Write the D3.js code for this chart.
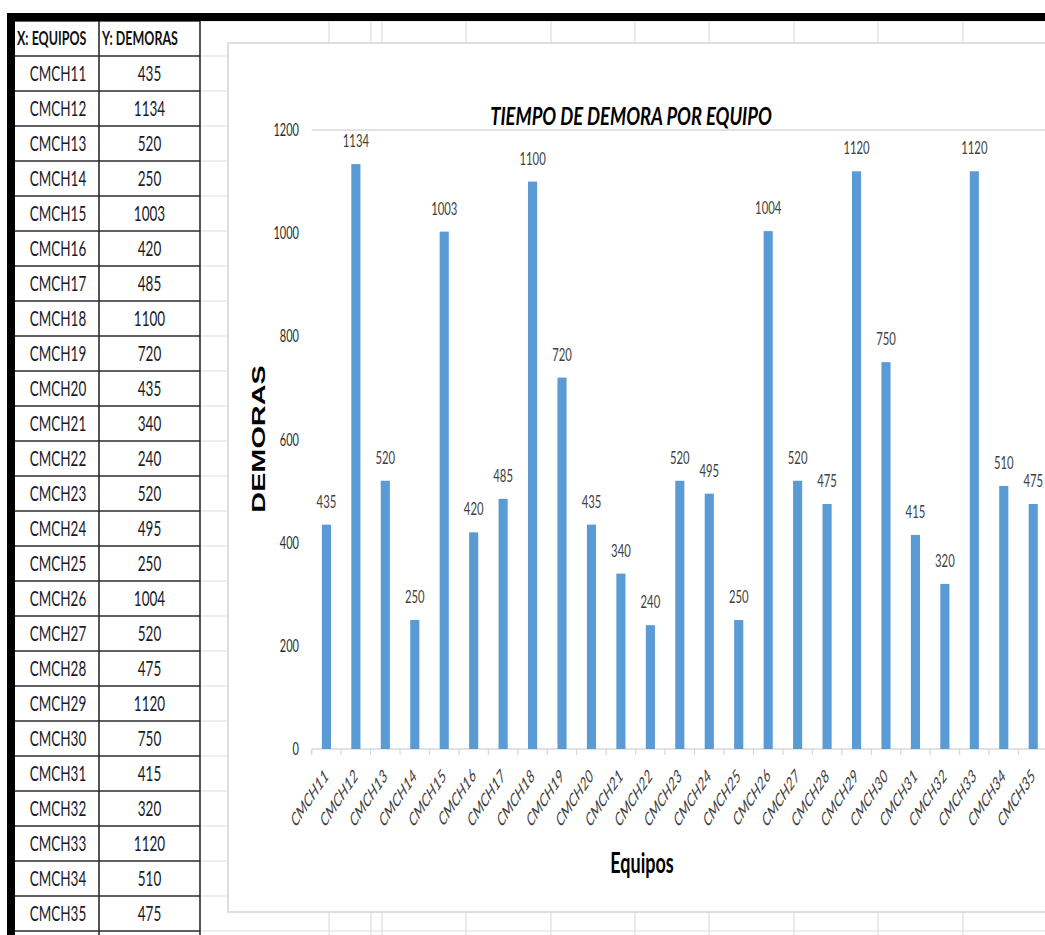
<!DOCTYPE html>
<html>
<head>
<meta charset="utf-8">
<script src="https://cdn.jsdelivr.net/npm/d3@7/dist/d3.min.js"></script>
<style>
  html, body { margin: 0; padding: 0; background: #fff; overflow: hidden; }
  svg { display: block; }
</style>
</head>
<body>
<svg id="sheet" width="1045" height="935"></svg>
<script>
// ---- data ----
const equipos = ["CMCH11","CMCH12","CMCH13","CMCH14","CMCH15","CMCH16","CMCH17","CMCH18","CMCH19","CMCH20",
                 "CMCH21","CMCH22","CMCH23","CMCH24","CMCH25","CMCH26","CMCH27","CMCH28","CMCH29","CMCH30",
                 "CMCH31","CMCH32","CMCH33","CMCH34","CMCH35"];
const demoras = [435,1134,520,250,1003,420,485,1100,720,435,
                 340,240,520,495,250,1004,520,475,1120,750,
                 415,320,1120,510,475];
const yTicks = [0,200,400,600,800,1000,1200];
const tableHeaders = ["X: EQUIPOS", "Y: DEMORAS"];
const chartTitle = "TIEMPO DE DEMORA POR EQUIPO";
const xAxisTitle = "Equipos";
const yAxisTitle = "DEMORAS";

// ---- layout ----
const W = 1045, H = 935;
const STRETCH = 1.5;              // text is drawn taller than wide
const FONT = "Lato, 'Open Sans', 'Liberation Sans', sans-serif";
const sheetColumnEdges = [329, 371, 382, 466, 551, 635, 709, 794, 878, 963];
const rowTop = 21, rowH = 35, rowCount = 26;
const tbl = { x0: 15, xMid: 99, x1: 200 };
const chartBox = { x: 228, y: 43, w: 900, h: 869 };
const plot = { left: 311.7, step: 29.45, bottom: 749, top: 130 };

const svg = d3.select("#sheet");

// stretched text helper: place at (x,y), optional rotation
function stext(g, x, y, str, opts = {}) {
  const s = opts.stretch || STRETCH;
  const rot = opts.rotate ? ` rotate(${opts.rotate})` : "";
  return g.append("text")
    .attr("transform", `translate(${x},${y}) scale(1,${s})${rot}`)
    .attr("font-family", opts.family || FONT)
    .attr("font-size", opts.size || 12)
    .attr("font-weight", opts.weight || "normal")
    .attr("font-style", opts.style || "normal")
    .attr("text-anchor", opts.anchor || "start")
    .attr("fill", opts.fill || "#222")
    .text(str);
}

// ---- spreadsheet background grid ----
const grid = svg.append("g").attr("stroke", "#dedede").attr("stroke-width", 1.2);
d3.range(rowCount + 1).forEach(i => {
  const y = rowTop + i * rowH;
  grid.append("line").attr("x1", tbl.x1).attr("x2", W).attr("y1", y).attr("y2", y);
});
sheetColumnEdges.forEach(x => {
  grid.append("line").attr("x1", x).attr("x2", x).attr("y1", rowTop).attr("y2", H);
});

// ---- data table ----
const table = svg.append("g");
const tLines = table.append("g").attr("stroke", "#2b2b2b").attr("stroke-width", 1.6);
d3.range(rowCount + 1).forEach(i => {
  const y = rowTop + i * rowH;
  tLines.append("line").attr("x1", tbl.x0).attr("x2", tbl.x1).attr("y1", y).attr("y2", y);
});
[tbl.xMid, tbl.x1].forEach(x => {
  tLines.append("line").attr("x1", x).attr("x2", x).attr("y1", rowTop).attr("y2", H);
});
stext(table, tbl.x0 + 2, rowTop + 24, tableHeaders[0], { size: 12.5, weight: "bold", fill: "#111" });
stext(table, tbl.xMid + 3, rowTop + 24, tableHeaders[1], { size: 12.5, weight: "bold", fill: "#111" });
equipos.forEach((e, i) => {
  const yb = rowTop + (i + 1) * rowH + 25;
  stext(table, (tbl.x0 + tbl.xMid) / 2 + 1, yb, e, { size: 13.5, anchor: "middle", fill: "#1a1a2a" });
  stext(table, (tbl.xMid + tbl.x1) / 2, yb, demoras[i], { size: 13.5, anchor: "middle", fill: "#1a1a2a" });
});

// ---- black frame ----
svg.append("rect").attr("x", 7).attr("y", 13).attr("width", W - 7).attr("height", 8).attr("fill", "#000");
svg.append("rect").attr("x", 7).attr("y", 13).attr("width", 8).attr("height", H - 13).attr("fill", "#000");

// ---- chart ----
svg.append("rect")
  .attr("x", chartBox.x).attr("y", chartBox.y)
  .attr("width", chartBox.w).attr("height", chartBox.h)
  .attr("fill", "#fff").attr("stroke", "#d6d6d6").attr("stroke-width", 1.6);

const chart = svg.append("g");

const x = d3.scaleBand()
  .domain(equipos)
  .range([plot.left, plot.left + plot.step * equipos.length])
  .paddingInner(0.69)
  .paddingOuter(0.345);

const y = d3.scaleLinear()
  .domain([0, d3.max(yTicks)])
  .range([plot.bottom, plot.top]);

// top border line of the plot area
chart.append("line")
  .attr("x1", plot.left).attr("x2", W)
  .attr("y1", y(d3.max(yTicks))).attr("y2", y(d3.max(yTicks)))
  .attr("stroke", "#d9d9d9").attr("stroke-width", 1.3);

// category axis line and tick marks on band edges
chart.append("line")
  .attr("x1", plot.left).attr("x2", W)
  .attr("y1", y(0)).attr("y2", y(0))
  .attr("stroke", "#d9d9d9").attr("stroke-width", 1.3);
d3.range(equipos.length + 1).forEach(i => {
  const xe = x.range()[0] + i * x.step();
  chart.append("line")
    .attr("x1", xe).attr("x2", xe).attr("y1", y(0)).attr("y2", y(0) + 6)
    .attr("stroke", "#d9d9d9").attr("stroke-width", 1.3);
});

// value axis labels
yTicks.forEach(t => {
  stext(chart, 299, y(t) + 6, t, { size: 11, anchor: "end", fill: "#2a2a2a" });
});

// bars
chart.selectAll("rect.bar")
  .data(demoras)
  .join("rect")
  .attr("class", "bar")
  .attr("x", (d, i) => x(equipos[i]))
  .attr("width", x.bandwidth())
  .attr("y", d => y(d))
  .attr("height", d => y(0) - y(d))
  .attr("fill", "#5b9bd5");

// data labels
demoras.forEach((d, i) => {
  stext(chart, x(equipos[i]) + x.bandwidth() / 2, y(d) - 17, d,
        { size: 11.3, anchor: "middle", fill: "#404040" });
});

// category labels, rotated
equipos.forEach(e => {
  stext(chart, x(e) + x.bandwidth() / 2 + 3, y(0) + 28, e,
        { size: 12, style: "italic", anchor: "end", fill: "#404040", rotate: -45 });
});

// titles
stext(chart, 631, 125, chartTitle, { size: 18.4, weight: "bold", style: "italic", anchor: "middle", fill: "#000", stretch: 1.38 });
stext(chart, 642, 873, xAxisTitle, { size: 18, weight: "bold", anchor: "middle", fill: "#000", stretch: 1.6 });
stext(chart, 265, 439, yAxisTitle, { size: 18.5, weight: "bold", anchor: "middle", fill: "#000",
                                     family: "'Liberation Sans', Arial, sans-serif", rotate: -90, stretch: 1.56 });
</script>
</body>
</html>
